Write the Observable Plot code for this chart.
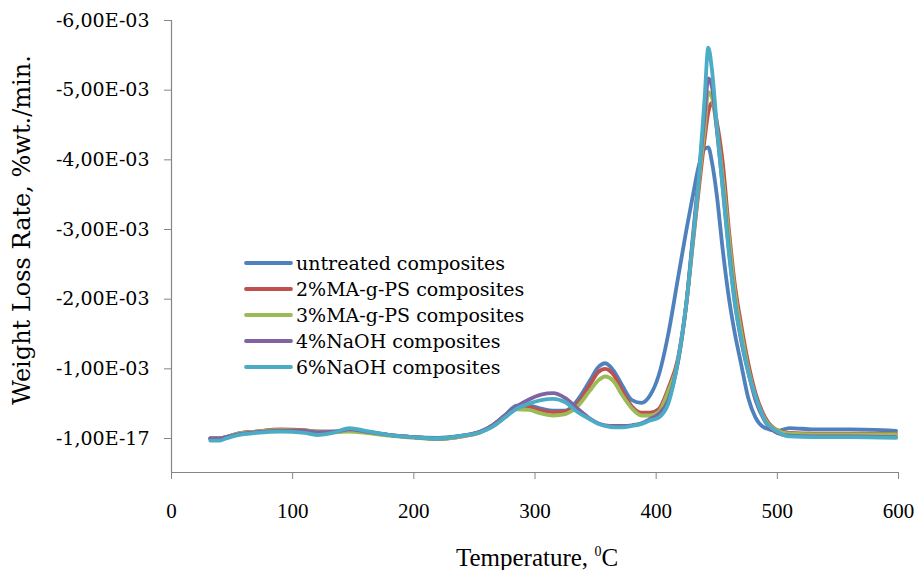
<!DOCTYPE html>
<html>
<head>
<meta charset="utf-8">
<script src="https://cdn.jsdelivr.net/npm/d3@7"></script>
<script src="https://cdn.jsdelivr.net/npm/@observablehq/plot@0.6"></script>
<style>
  html, body { margin: 0; padding: 0; background: #fff; }
  g[aria-label="y-axis tick label"] text { font-family: "DejaVu Serif", serif; font-size: 19px; fill: #000; }
  g[aria-label="x-axis tick label"] text { font-family: "Liberation Serif", serif; font-size: 21px; fill: #000; }
</style>
</head>
<body>
<div id="chart"></div>
<script>
// Temperature (°C)
const temps = [32,40,45,55,70,90,110,120,135,147,160,180,200,220,240,255,265,275,285,295,305,315,325,335,345,352,358,365,372,380,388,395,402,410,418,425,430,435,440,443,446,450,455,460,465,470,476,482,490,500,510,530,560,598];

// Weight loss rate, in units of 1E-03 %wt./min.
const untreated = [0.00,0.00,-0.02,-0.07,-0.10,-0.12,-0.11,-0.10,-0.10,-0.13,-0.10,-0.05,-0.02,-0.01,-0.04,-0.10,
  -0.19,-0.33,-0.47,-0.47,-0.43,-0.40,-0.40,-0.55,-0.82,-1.02,-1.08,-0.97,-0.76,-0.55,-0.51,-0.62,-0.90,-1.50,-2.30,-3.00,-3.46,-3.90,-4.16,-4.18,-3.97,-3.50,-2.70,-2.02,-1.50,-1.08,-0.58,-0.30,-0.15,-0.11,-0.15,-0.13,-0.13,-0.11];
const ma2 = [0.00,0.00,-0.02,-0.07,-0.10,-0.13,-0.12,-0.10,-0.10,-0.12,-0.09,-0.05,-0.02,0.01,-0.03,-0.09,
  -0.19,-0.32,-0.44,-0.45,-0.40,-0.38,-0.39,-0.50,-0.76,-0.95,-1.00,-0.91,-0.68,-0.46,-0.37,-0.37,-0.42,-0.72,-1.15,-1.95,-2.75,-3.55,-4.30,-4.68,-4.82,-4.55,-3.95,-3.00,-2.20,-1.65,-1.08,-0.65,-0.30,-0.12,-0.08,-0.07,-0.07,-0.07];
const ma3 = [0.00,0.00,-0.02,-0.07,-0.10,-0.12,-0.11,-0.10,-0.09,-0.10,-0.08,-0.04,-0.01,0.01,-0.03,-0.09,
  -0.17,-0.30,-0.42,-0.41,-0.36,-0.33,-0.35,-0.46,-0.68,-0.83,-0.89,-0.82,-0.62,-0.43,-0.33,-0.33,-0.38,-0.68,-1.10,-1.95,-2.80,-3.65,-4.45,-4.97,-4.90,-4.45,-3.75,-2.90,-2.10,-1.55,-1.00,-0.60,-0.27,-0.11,-0.07,-0.06,-0.06,-0.06];
const naoh4 = [0.00,0.00,-0.02,-0.06,-0.09,-0.11,-0.11,-0.09,-0.10,-0.13,-0.10,-0.05,-0.02,0.00,-0.04,-0.10,
  -0.19,-0.33,-0.46,-0.56,-0.63,-0.65,-0.58,-0.43,-0.29,-0.22,-0.19,-0.18,-0.18,-0.19,-0.22,-0.28,-0.35,-0.55,-1.10,-1.95,-2.85,-3.75,-4.65,-5.17,-5.05,-4.45,-3.60,-2.72,-1.95,-1.42,-0.95,-0.55,-0.24,-0.08,-0.04,-0.03,-0.03,-0.02];
const naoh6 = [0.03,0.03,0.00,-0.05,-0.08,-0.10,-0.08,-0.05,-0.09,-0.15,-0.11,-0.05,-0.02,0.00,-0.04,-0.09,
  -0.17,-0.30,-0.43,-0.50,-0.55,-0.57,-0.52,-0.38,-0.28,-0.21,-0.18,-0.16,-0.16,-0.18,-0.21,-0.26,-0.30,-0.50,-1.12,-1.95,-2.80,-3.70,-4.89,-5.61,-5.30,-4.50,-3.57,-2.67,-1.93,-1.45,-0.95,-0.60,-0.25,-0.10,-0.03,-0.02,-0.02,-0.01];

const seriesNames = ["untreated composites","2%MA-g-PS composites","3%MA-g-PS composites","4%NaOH composites","6%NaOH composites"];
const seriesValues = [untreated, ma2, ma3, naoh4, naoh6];
const seriesColors = ["#4F81BD","#C0504D","#9BBB59","#8064A2","#4BACC6"];

const xTicks = [0,100,200,300,400,500,600];
const yTicks = [0,-1,-2,-3,-4,-5,-6];
const yTickLabels = ["-1,00E-17","-1,00E-03","-2,00E-03","-3,00E-03","-4,00E-03","-5,00E-03","-6,00E-03"];

const data = [];
seriesNames.forEach((name, i) => {
  temps.forEach((t, j) => data.push({series: name, T: t, v: seriesValues[i][j]}));
});

const axisColor = "#868686";
const yBottom = 0.488;

const svg = Plot.plot({
  width: 920,
  height: 570,
  marginLeft: 171,
  marginRight: 22,
  marginTop: 20,
  marginBottom: 98,
  style: {background: "#fff", overflow: "visible"},
  x: {domain: [0, 600], label: null},
  y: {domain: [yBottom, -6], label: null},
  color: {domain: seriesNames, range: seriesColors},
  marks: [
    Plot.ruleX([0], {stroke: axisColor, strokeWidth: 1.2}),
    Plot.ruleY([yBottom], {stroke: axisColor, strokeWidth: 1.2}),
    Plot.axisX({ticks: xTicks, tickSize: 7, tickPadding: 24, stroke: axisColor, label: null, tickFormat: d => String(d)}),
    Plot.axisY({ticks: yTicks, tickSize: 7, tickPadding: 15, stroke: axisColor, label: null,
      tickFormat: d => yTickLabels[yTicks.indexOf(d)]}),
    Plot.line(data, {x: "T", y: "v", z: "series", stroke: "series", strokeWidth: 3.8,
      curve: "monotone-x", strokeLinejoin: "round", strokeLinecap: "round"})
  ]
});

document.getElementById("chart").appendChild(svg);

const s = d3.select(svg);
// Axis titles
s.append("text")
  .attr("transform", "translate(30,230) rotate(-90)")
  .attr("text-anchor", "middle")
  .style("font-family", "'DejaVu Serif', serif")
  .style("font-size", "24px")
  .attr("fill", "#000")
  .text("Weight Loss Rate, %wt./min.");

const xt = s.append("text")
  .attr("x", 537).attr("y", 566)
  .attr("text-anchor", "middle")
  .style("font-family", "'Liberation Serif', serif")
  .style("font-size", "25px")
  .attr("fill", "#000");
xt.append("tspan").text("Temperature, ");
xt.append("tspan").attr("dy", -10).style("font-size", "14px").text("0");
xt.append("tspan").attr("dy", 10).text("C");

// Legend (inside plot area)
const lg = s.append("g").attr("text-anchor", "start");
seriesNames.forEach((name, i) => {
  const cy = 263 + i * 26;
  lg.append("line").attr("x1", 246).attr("x2", 291).attr("y1", cy).attr("y2", cy)
    .attr("stroke", seriesColors[i]).attr("stroke-width", 3.8).attr("stroke-linecap", "round");
  lg.append("text").attr("x", 296).attr("y", cy).attr("dy", "0.35em")
    .attr("text-anchor", "start")
    .style("font-family", "'DejaVu Serif', serif").style("font-size", "19px")
    .attr("fill", "#000").text(name);
});
</script>
</body>
</html>
